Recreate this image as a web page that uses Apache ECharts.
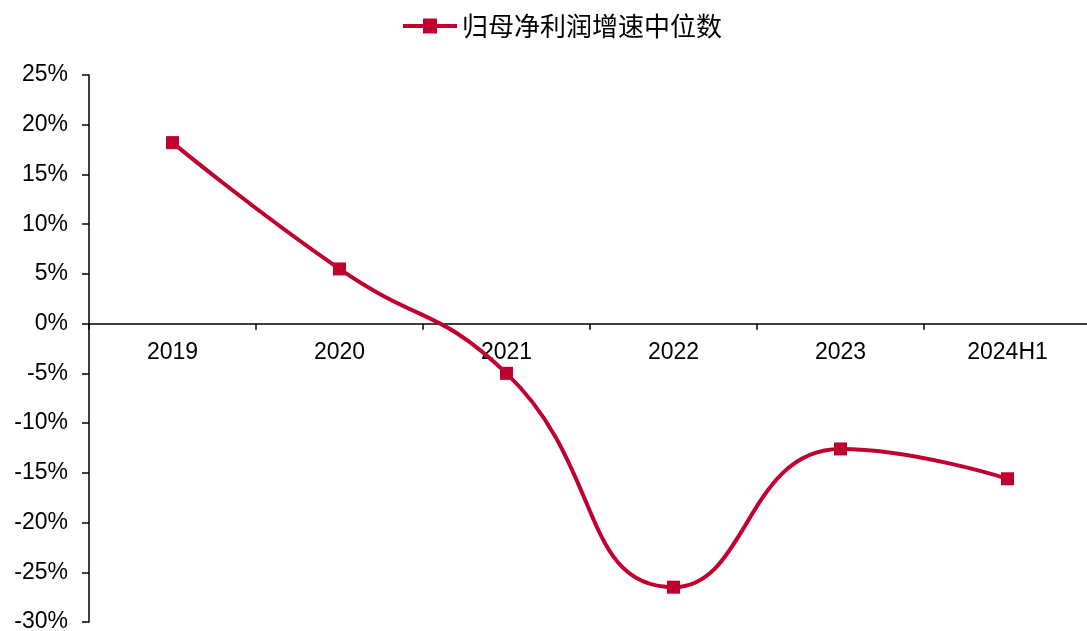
<!DOCTYPE html>
<html>
<head>
<meta charset="utf-8">
<script src="https://cdn.jsdelivr.net/npm/echarts@6/dist/echarts.min.js"></script>
<style>
  html, body { margin: 0; padding: 0; background: #fff; }
  #chart { width: 1087px; height: 631px; }
</style>
</head>
<body>
<div id="chart"></div>
<script>
// Median growth of net profit attributable to parent, by period (%)
const categories = ['2019', '2020', '2021', '2022', '2023', '2024H1'];
const seriesName = '归母净利润增速中位数';
const growthValues = [18.2, 5.5, -5.0, -26.5, -12.6, -15.6];

const chart = echarts.init(document.getElementById('chart'));
const red = '#C0002F';

chart.setOption({
  animation: false,
  backgroundColor: '#fff',
  legend: {
    top: 8,
    left: 398,
    itemWidth: 54,
    itemHeight: 15,
    itemGap: 8,
    symbolKeepAspect: false,
    textStyle: { fontFamily: 'Noto Sans CJK SC', fontSize: 26, color: '#000' },
    data: [{
      name: seriesName,
      icon: 'path://M0,5.5 L20,5.5 L20,0 L34,0 L34,5.5 L54,5.5 L54,9.5 L34,9.5 L34,15 L20,15 L20,9.5 L0,9.5 Z'
    }]
  },
  grid: { left: 89, right: -4, top: 75, bottom: 9, containLabel: false, outerBoundsMode: 'none' },
  xAxis: {
    type: 'category',
    data: categories,
    boundaryGap: true,
    position: 'bottom',
    offset: 0,
    axisLine: { onZero: false, lineStyle: { color: '#000', width: 1.5 } },
    axisTick: { show: true, length: 6, lineStyle: { color: '#000', width: 1.5 } },
    axisLabel: { color: '#000', fontFamily: 'Liberation Sans', fontSize: 23, margin: 18 }
  },
  yAxis: {
    type: 'value',
    min: -30,
    max: 25,
    interval: 5,
    axisLine: { show: true, lineStyle: { color: '#000', width: 1.5 } },
    axisTick: { show: true, length: 7, lineStyle: { color: '#000', width: 1.5 } },
    splitLine: { show: false },
    axisLabel: {
      color: '#000', fontFamily: 'Liberation Sans', fontSize: 23, margin: 21,
      formatter: v => v + '%'
    }
  },
  series: [{
    name: seriesName,
    type: 'line',
    data: growthValues,
    smooth: 0.5,
    symbol: 'rect',
    symbolSize: 13,
    lineStyle: { color: red, width: 4 },
    itemStyle: { color: red }
  }]
});

// Lift the category axis (line, ticks and labels) up to the 0% level
const yMin = chart.getModel().getComponent('yAxis', 0).axis.scale.getExtent()[0];
const bottomPx = chart.convertToPixel({ yAxisIndex: 0 }, yMin);
const zeroPx = chart.convertToPixel({ yAxisIndex: 0 }, 0);
chart.setOption({ xAxis: { offset: -(bottomPx - zeroPx) } });
</script>
</body>
</html>
